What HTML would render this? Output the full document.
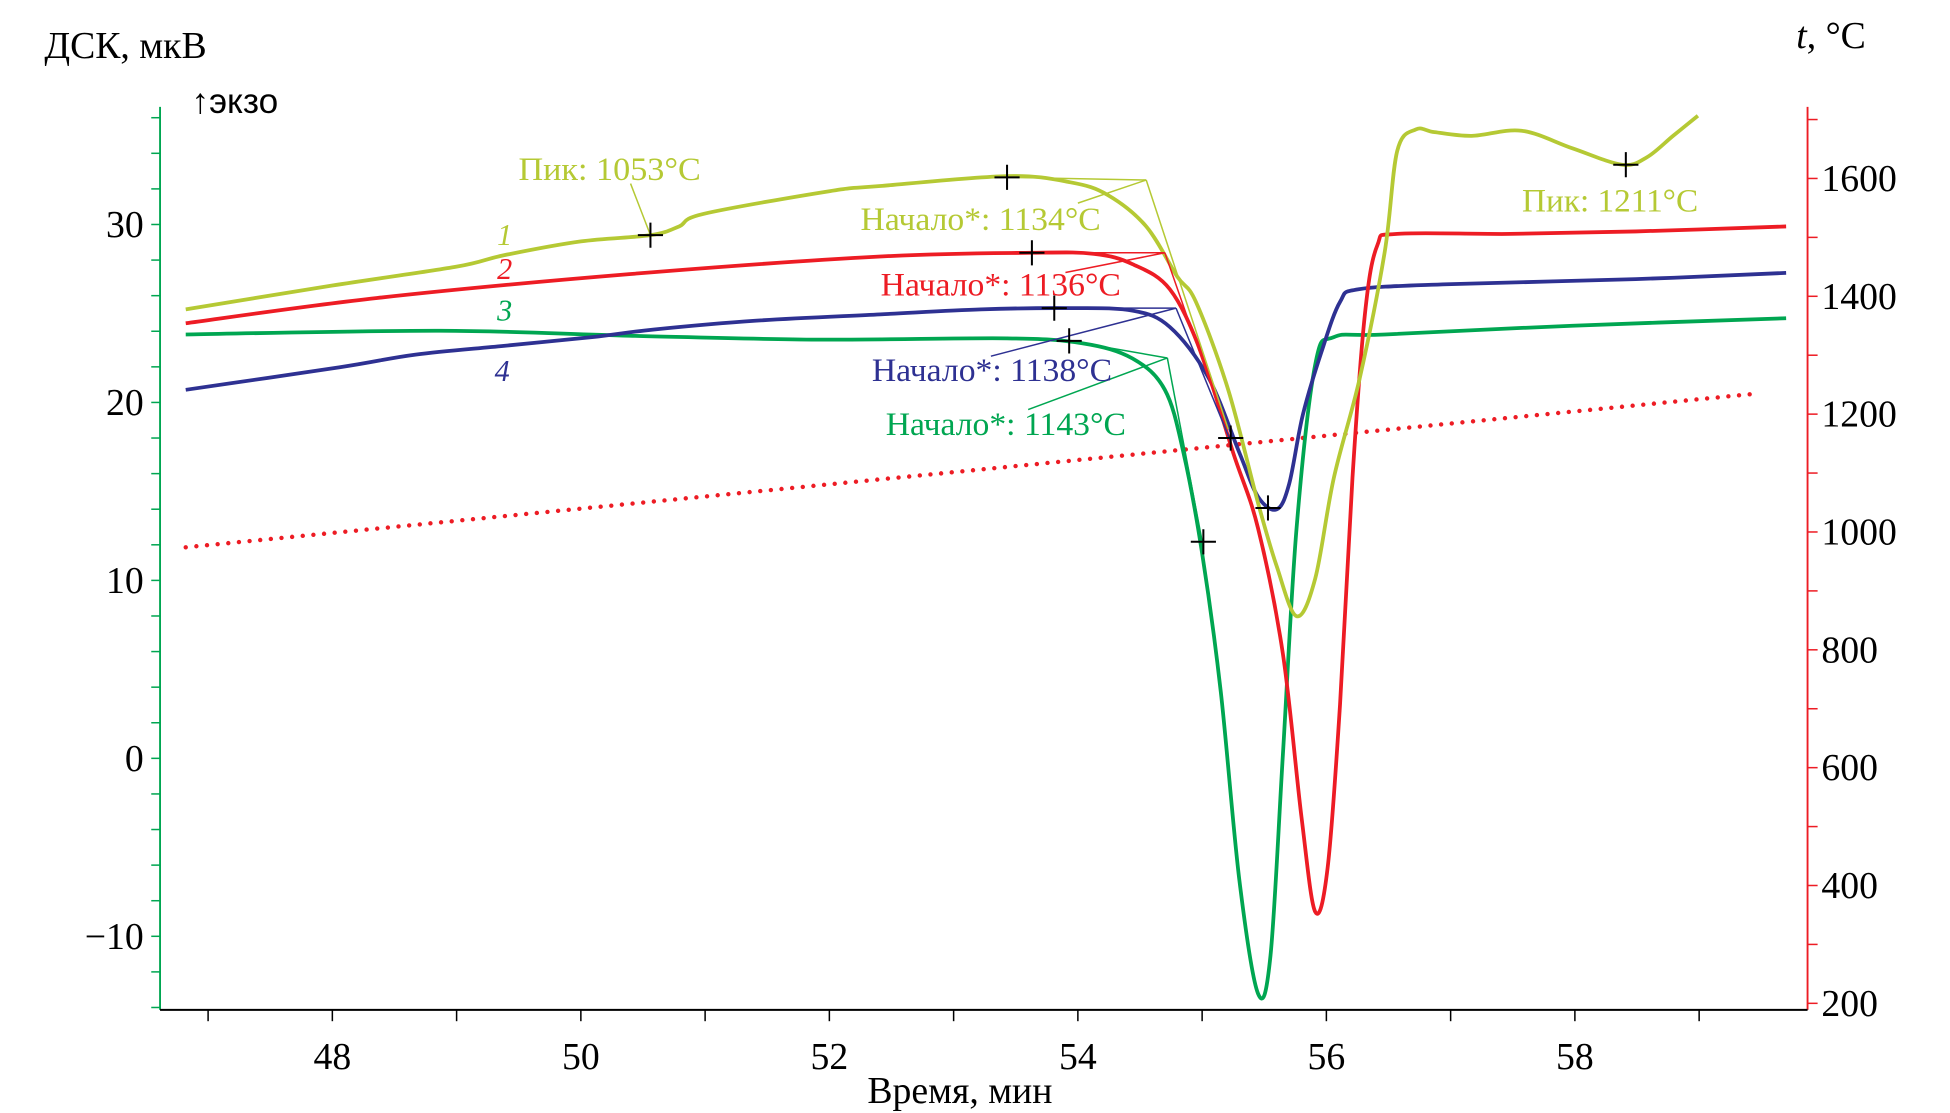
<!DOCTYPE html>
<html><head><meta charset="utf-8">
<style>
html,body{margin:0;padding:0;background:#fff;}
svg{display:block;font-family:"Liberation Serif","DejaVu Serif",serif;}
</style></head>
<body>
<svg id="chart" width="1950" height="1113" viewBox="0 0 1550 885" xmlns="http://www.w3.org/2000/svg">
<g id="axes"></g>
<g id="series"></g>
<g id="annot"></g>
<text x="35" y="46" font-size="30">ДСК, мкВ</text>
<text x="152" y="90" font-size="28" font-family="Liberation Sans, sans-serif">↑экзо</text>
<text x="1428" y="38" font-size="30"><tspan font-style="italic">t</tspan>, °C</text>
<text x="763" y="877" font-size="30" text-anchor="middle">Время, мин</text>
</svg>
<script>
const timeTicks=[47,48,49,50,51,52,53,54,55,56,57,58,59];
const timeLabels=[48,50,52,54,56,58];
const dscTicks=[-14,-12,-10,-8,-6,-4,-2,0,2,4,6,8,10,12,14,16,18,20,22,24,26,28,30,32,34,36];
const dscLabels=[-10,0,10,20,30];
const tempTicks=[200,300,400,500,600,700,800,900,1000,1100,1200,1300,1400,1500,1600,1700];
const tempLabels=[200,400,600,800,1000,1200,1400,1600];

const c1Time=[46.82,48.0,49.0,49.38,50.0,50.56,50.79,50.99,52.0,52.41,53.43,53.94,54.24,54.55,54.80,54.95,55.21,55.45,55.60,55.76,55.91,56.06,56.27,56.47,56.57,56.72,56.87,57.17,57.57,57.98,58.38,58.58,58.79,58.99];
const c1Dsc=[25.23,26.57,27.63,28.27,29.05,29.40,29.89,30.60,31.87,32.16,32.72,32.37,31.66,29.89,27.07,25.65,20.71,14.35,10.8,7.99,10.1,15.76,21.41,28.48,34.13,35.34,35.19,34.98,35.27,34.28,33.36,33.78,34.98,36.11];
const c2Time=[46.82,48.36,50.39,52.41,53.63,54.13,54.44,54.74,54.99,55.25,55.45,55.65,55.80,55.91,56.01,56.11,56.21,56.31,56.41,56.57,57.48,58.49,59.70];
const c2Dsc=[24.45,25.87,27.21,28.20,28.41,28.35,27.77,26.36,22.83,17.17,12.93,5.87,-3.32,-8.62,-6.15,3.04,15.76,24.95,28.83,29.47,29.47,29.61,29.89];
const c3Time=[46.82,48.87,50.39,51.91,53.43,54.04,54.44,54.70,54.85,55.00,55.15,55.30,55.45,55.55,55.65,55.76,55.91,56.06,56.47,57.98,59.70];
const c3Dsc=[23.82,24.03,23.75,23.53,23.60,23.32,22.47,20.71,17.17,11.52,3.75,-6.86,-13.22,-11.10,0.21,12.93,22.12,23.67,23.82,24.31,24.73];
const c4Time=[46.82,48.06,48.67,49.38,50.09,50.59,51.40,52.41,53.22,53.94,54.44,54.74,55.05,55.30,55.45,55.60,55.70,55.81,55.96,56.11,56.26,56.97,58.49,59.70];
const c4Dsc=[20.71,21.98,22.69,23.18,23.67,24.10,24.59,24.95,25.23,25.30,25.16,24.24,21.41,17.17,14.70,13.99,15.41,19.29,22.83,25.65,26.36,26.64,26.93,27.28];
const tempTime=[46.82,59.42];
const tempVal=[974,1234];
const crossTime=[50.56,53.43,53.63,53.81,53.93,55.01,55.23,55.53,58.41];
const crossDsc=[29.40,32.65,28.41,25.30,23.46,12.17,18.0,14.07,33.36];

const X=t=>264+(t-48)*98.8;
const Y=v=>603-v*14.15;
const YT=c=>423-(c-1000)*0.4685;
const NS="http://www.w3.org/2000/svg";
function mk(tag,attrs,parent){const e=document.createElementNS(NS,tag);for(const k in attrs)e.setAttribute(k,attrs[k]);parent.appendChild(e);return e;}
const axes=document.getElementById('axes'),series=document.getElementById('series'),annot=document.getElementById('annot');
const GREEN="#00a651",RED="#ed1c24",YEL="#b5c934",BLUE="#2e3192";

let e;
e=mk('line',{x1:127,y1:85,x2:127,y2:803,stroke:GREEN,'stroke-width':1.5},axes);


e=mk('line',{x1:1437,y1:85,x2:1437,y2:803,stroke:RED,'stroke-width':1.5},axes);


e=mk('line',{x1:127,y1:803,x2:1437,y2:803,stroke:'#000','stroke-width':1.5},axes);


timeTicks.forEach(t=>{e=mk('line',{x1:X(t),y1:803,x2:X(t),y2:812,stroke:'#000','stroke-width':1.2},axes);

});
timeLabels.forEach(t=>{e=mk('text',{x:X(t),y:850,'font-size':30,'text-anchor':'middle'},axes);e.textContent=t;

});
dscTicks.forEach(v=>{e=mk('line',{x1:120,y1:Y(v),x2:127,y2:Y(v),stroke:GREEN,'stroke-width':1.2},axes);

});
dscLabels.forEach(v=>{e=mk('text',{x:114,y:Y(v)+10,'font-size':30,'text-anchor':'end'},axes);e.textContent=v<0?'\u2212'+(-v):v;

});
tempTicks.forEach(c=>{e=mk('line',{x1:1437,y1:YT(c),x2:1445,y2:YT(c),stroke:RED,'stroke-width':1.2},axes);

});
tempLabels.forEach(c=>{e=mk('text',{x:1448,y:YT(c)+10,'font-size':30},axes);e.textContent=c;

});

function curve(ts,vs,color,name){
  const pts=ts.map((t,i)=>[X(t),Y(vs[i])]);
  let d='M'+pts[0][0]+','+pts[0][1];
  for(let i=0;i<pts.length-1;i++){
    const p0=pts[i-1]||pts[i],p1=pts[i],p2=pts[i+1],p3=pts[i+2]||p2;
    const c1x=p1[0]+(p2[0]-p0[0])/6,c1y=p1[1]+(p2[1]-p0[1])/6,c2x=p2[0]-(p3[0]-p1[0])/6,c2y=p2[1]-(p3[1]-p1[1])/6;
    d+=` C${c1x},${c1y} ${c2x},${c2y} ${p2[0]},${p2[1]}`;
  }
  const el=mk('path',{d:d,fill:'none',stroke:color,'stroke-width':3,'stroke-linejoin':'round'},series);
  
  
}
e=mk('line',{x1:X(tempTime[0]),y1:YT(tempVal[0]),x2:X(tempTime[1]),y2:YT(tempVal[1]),stroke:RED,'stroke-width':3.5,'stroke-dasharray':'0 8.5','stroke-linecap':'round'},series);


curve(c3Time,c3Dsc,GREEN,'curve-3');
curve(c4Time,c4Dsc,BLUE,'curve-4');
curve(c2Time,c2Dsc,RED,'curve-2');
curve(c1Time,c1Dsc,YEL,'curve-1');

// onset tangent lines [time,dsc] triples: corner, horizontal end, slope end, label point
const onsetCorner=[[54.55,32.5],[54.70,28.41],[54.79,25.30],[54.72,22.5]];
const onsetLeft=[[53.43,32.65],[53.63,28.41],[53.81,25.30],[53.93,23.46]];
const onsetDown=[[55.21,18.5],[55.23,17.8],[55.23,17.8],[55.0,12.2]];
const onsetLabel=[[54.0,31.2],[53.9,27.3],[53.3,22.6],[53.6,19.6]];
const onsetColors=[YEL,RED,BLUE,GREEN];
onsetCorner.forEach((c,i)=>{
  [onsetLeft[i],onsetDown[i],onsetLabel[i]].forEach(p=>{
    e=mk('line',{x1:X(c[0]),y1:Y(c[1]),x2:X(p[0]),y2:Y(p[1]),stroke:onsetColors[i],'stroke-width':1.2},annot);
    
    
  });
});
e=mk('line',{x1:X(50.56),y1:Y(29.4),x2:X(50.4),y2:Y(32.3),stroke:YEL,'stroke-width':1.2},annot);


crossTime.forEach((t,i)=>{
  const x=X(t),y=Y(crossDsc[i]);
  e=mk('path',{d:`M${x-10},${y}H${x+10}M${x},${y-10}V${y+10}`,stroke:'#000','stroke-width':1.6},annot);
  
  
});
const labels=[["Пик: 1053°C",412,143,145,YEL],["Начало*: 1134°C",684,183,191,YEL],["Начало*: 1136°C",700,235,191,RED],["Начало*: 1138°C",693,303,191,BLUE],["Начало*: 1143°C",704,346,191,GREEN],["Пик: 1211°C",1210,168,140,YEL]];
labels.forEach(l=>{e=mk('text',{x:l[1],y:l[2],'font-size':26,fill:l[4],textLength:l[3],lengthAdjust:'spacingAndGlyphs'},annot);e.textContent=l[0];

});
const nums=[["1",395,195,YEL],["2",395,222,RED],["3",395,255,GREEN],["4",393,303,BLUE]];
nums.forEach(n=>{e=mk('text',{x:n[1],y:n[2],'font-size':24,'font-style':'italic',fill:n[3]},annot);e.textContent=n[0];

});
</script>
</body></html>
